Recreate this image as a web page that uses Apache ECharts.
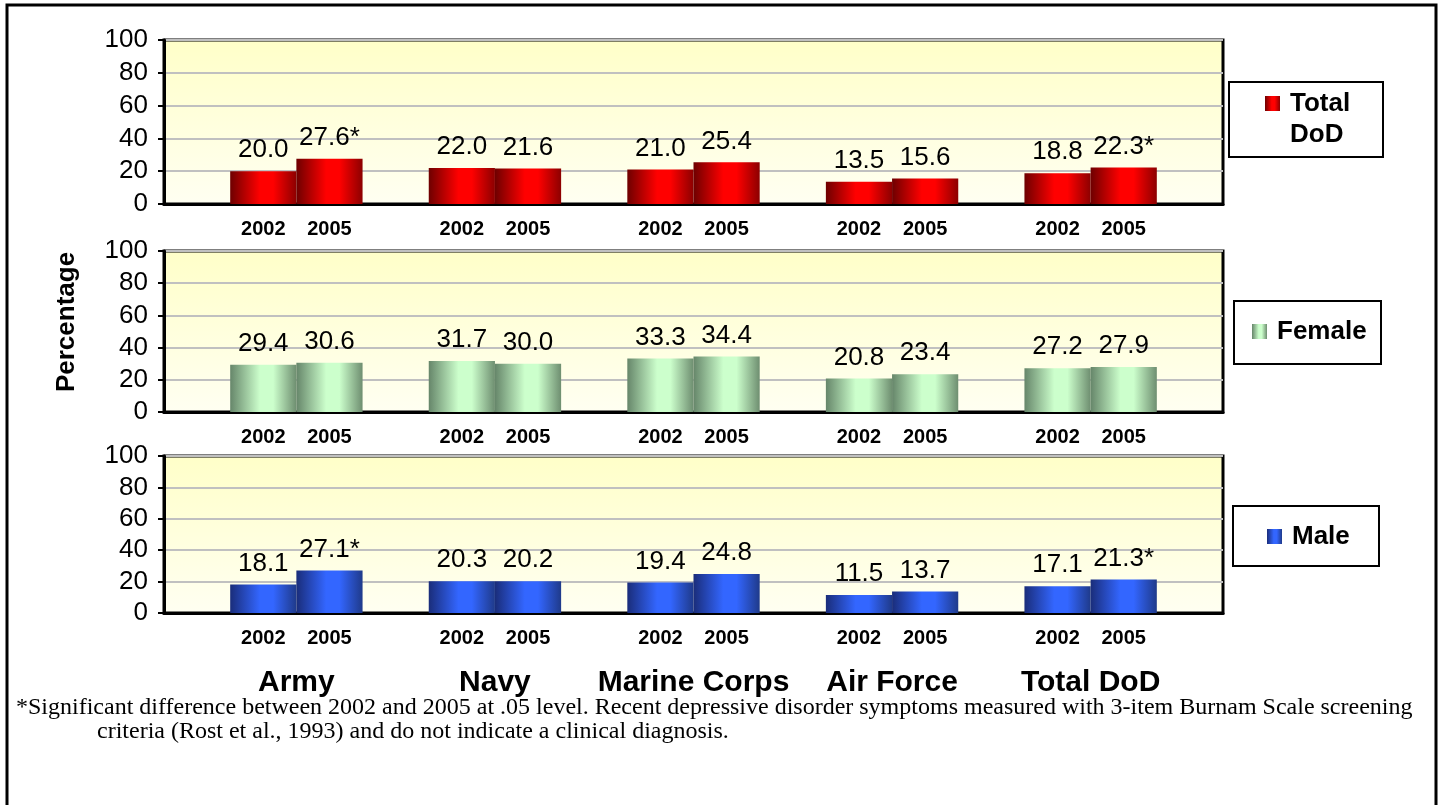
<!DOCTYPE html>
<html>
<head>
<meta charset="utf-8">
<script src="https://cdn.jsdelivr.net/npm/echarts@6/dist/echarts.min.js"></script>
<style>
  html, body { margin: 0; padding: 0; background: #fff; }
  #chart { width: 1443px; height: 805px; }
</style>
</head>
<body>
<div id="chart"></div>
<script>
// services along the bottom, two survey years each
const services = ['Army', 'Navy', 'Marine Corps', 'Air Force', 'Total DoD'];
const years = ['2002', '2005'];

// values are 2002, 2005 pairs in service order
const totalDoD = [20.0, 27.6, 22.0, 21.6, 21.0, 25.4, 13.5, 15.6, 18.8, 22.3];
const totalSig = [false, true, false, false, false, false, false, false, false, true];
const female = [29.4, 30.6, 31.7, 30.0, 33.3, 34.4, 20.8, 23.4, 27.2, 27.9];
const femaleSig = [false, false, false, false, false, false, false, false, false, false];
const male = [18.1, 27.1, 20.3, 20.2, 19.4, 24.8, 11.5, 13.7, 17.1, 21.3];
const maleSig = [false, true, false, false, false, false, false, false, false, true];

const footnote1 = '*Significant difference between 2002 and 2005 at .05 level. Recent depressive disorder symptoms measured with 3-item Burnam Scale screening';
const footnote2 = 'criteria (Rost et al., 1993) and do not indicate a clinical diagnosis.';

const SANS = '"Liberation Sans", Arial, sans-serif';
const SERIF = '"Liberation Serif", "Times New Roman", serif';

// category slots: a blank slot before each pair, one blank at the end
const slots = [];
const slotLabels = [];
services.forEach((s, i) => {
    slots.push('gap' + i);
    slotLabels.push('');
    years.forEach(y => {
        slots.push(s + ' ' + y);
        slotLabels.push(y);
    });
});
slots.push('gapEnd');
slotLabels.push('');

function toSlots(values, sig) {
    const out = [];
    let k = 0;
    services.forEach(() => {
        out.push(null);
        years.forEach(() => {
            out.push({ value: values[k], sig: sig[k] });
            k++;
        });
    });
    out.push(null);
    return out;
}

function barGradient(dark, bright, edge) {
    return new echarts.graphic.LinearGradient(0, 0, 1, 0, [
        { offset: 0, color: dark },
        { offset: 0.45, color: bright },
        { offset: 0.65, color: bright },
        { offset: 1, color: edge }
    ]);
}

const panels = [
    { name: 'Total DoD', data: toSlots(totalDoD, totalSig), top: 40, height: 164,
      color: barGradient('#6e0000', '#ff0000', '#8c0000') },
    { name: 'Female', data: toSlots(female, femaleSig), top: 251, height: 161,
      color: barGradient('#66866a', '#ccffcc', '#6e8e70') },
    { name: 'Male', data: toSlots(male, maleSig), top: 456, height: 157,
      color: barGradient('#1a2d7a', '#3366ff', '#1f3a8a') }
];

const plotBg = new echarts.graphic.LinearGradient(0, 0, 0, 1, [
    { offset: 0, color: '#ffffc8' },
    { offset: 1, color: '#fffff2' }
]);

const grids = panels.map(p => ({
    left: 164, right: 220, top: p.top, height: p.height,
    show: true, backgroundColor: plotBg, borderColor: '#000', borderWidth: 3
}));

const xAxes = panels.map((p, i) => ({
    type: 'category', gridIndex: i, data: slots,
    axisLine: { lineStyle: { color: '#000', width: 3 } },
    axisTick: { length: 8, lineStyle: { color: '#000', width: 2 } },
    axisLabel: {
        interval: 0, margin: 15, color: '#000',
        fontFamily: SANS, fontSize: 20, fontWeight: 'bold',
        formatter: (v, idx) => slotLabels[idx]
    }
}));

// service names centred between the two year bars, under the bottom panel
xAxes.push({
    type: 'value', gridIndex: 2, position: 'bottom',
    min: 0, max: slots.length, interval: 1,
    axisLine: { show: false }, axisTick: { show: false }, splitLine: { show: false },
    axisLabel: {
        margin: 55, color: '#000', fontFamily: SANS, fontSize: 30, fontWeight: 'bold',
        formatter: v => (v % 3 === 2 ? services[(v - 2) / 3] : '')
    }
});

const yAxes = panels.map((p, i) => ({
    type: 'value', gridIndex: i, min: 0, max: 100, interval: 20,
    axisLine: { show: true, lineStyle: { color: '#000', width: 3 } },
    axisTick: { show: true, length: 6, lineStyle: { color: '#000', width: 2 } },
    axisLabel: { margin: 16, color: '#000', fontFamily: SANS, fontSize: 26 },
    splitLine: { lineStyle: { color: '#c0c0c0', width: 2 } }
}));

const series = panels.map((p, i) => ({
    name: p.name, type: 'bar', xAxisIndex: i, yAxisIndex: i,
    data: p.data, barCategoryGap: '0%',
    itemStyle: { color: p.color },
    label: {
        show: true, position: 'top', distance: 8, color: '#000',
        fontFamily: SANS, fontSize: 26,
        formatter: q => q.data.value.toFixed(1) + (q.data.sig ? '*' : '')
    }
}));

const legendBoxes = [
    { x: 1229, y: 82, w: 154, h: 75 },
    { x: 1234, y: 301, w: 147, h: 63 },
    { x: 1233, y: 506, w: 146, h: 60 }
];
const legendPos = [
    { left: 1265, top: 57 },
    { left: 1252, top: 316 },
    { left: 1267, top: 521 }
];

// the two-line legend gets an empty first line so its marker sits level with "Total"
const legends = panels.map((p, i) => ({
    data: [p.name], left: legendPos[i].left, top: legendPos[i].top,
    orient: 'vertical', padding: 0, icon: 'rect', itemWidth: 15, itemHeight: 15,
    selectedMode: false,
    formatter: n => (n === 'Total DoD' ? '\nTotal\nDoD' : n),
    textStyle: {
        color: '#000', fontFamily: SANS, fontSize: 26, fontWeight: 'bold',
        lineHeight: 31, padding: [0, 0, 0, 5]
    }
}));

const graphics = [
    { type: 'rect', shape: { x: 7, y: 5, width: 1429, height: 830 },
      style: { fill: 'none', stroke: '#000', lineWidth: 3 }, z: -10 },
    ...legendBoxes.map(b => ({
        type: 'rect', shape: { x: b.x, y: b.y, width: b.w, height: b.h },
        style: { fill: '#fff', stroke: '#000', lineWidth: 2 }, z: -5
    })),
    { type: 'text', x: 67, y: 322, rotation: Math.PI / 2,
      style: { text: 'Percentage', font: 'bold 26px ' + SANS, fill: '#000',
               textAlign: 'center', textVerticalAlign: 'middle' } },
    { type: 'text', x: 16, y: 708,
      style: { text: footnote1, font: '24px ' + SERIF, fill: '#000',
               textAlign: 'left', textVerticalAlign: 'middle' } },
    { type: 'text', x: 97, y: 732,
      style: { text: footnote2, font: '24px ' + SERIF, fill: '#000',
               textAlign: 'left', textVerticalAlign: 'middle' } }
];

const chart = echarts.init(document.getElementById('chart'));
chart.setOption({
    animation: false,
    backgroundColor: '#fff',
    grid: grids,
    xAxis: xAxes,
    yAxis: yAxes,
    legend: legends,
    graphic: graphics,
    series: series
});
</script>
</body>
</html>
